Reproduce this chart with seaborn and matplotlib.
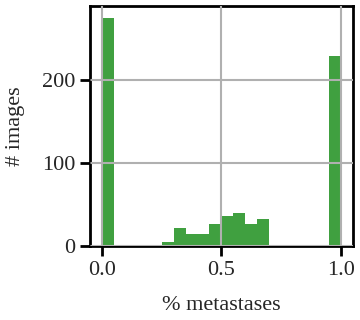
import numpy as np
import matplotlib
matplotlib.use("Agg")
import matplotlib.pyplot as plt
import seaborn as sns

# ── Data ──────────────────────────────────────────────────────
bin_edges = [i / 20 for i in range(21)]
bin_centers = [(a + b) / 2 for a, b in zip(bin_edges[:-1], bin_edges[1:])]
counts = [275, 0, 0, 0, 0, 5, 22, 15, 15, 26, 36, 40, 27, 32, 0, 0, 0, 0, 0, 229]
x_ticks = [0.0, 0.5, 1.0]
x_ticklabels = ["0.0", "0.5", "1.0"]
y_ticks = [0, 100, 200]

# ── Style ─────────────────────────────────────────────────────
sns.set_style("white")
plt.rcParams["font.family"] = ["Liberation Serif", "DejaVu Serif"]
plt.rcParams["font.size"] = 16

fig = plt.figure(figsize=(3.6, 3.2), dpi=100)
ax = fig.add_axes([0.25, 0.231, 0.73, 0.75])

sns.histplot(x=bin_centers, weights=counts, bins=bin_edges, ax=ax,
             color="#40a040", alpha=1, linewidth=0, edgecolor="none")

ax.set_axisbelow(False)
ax.grid(True, color="#b0b0b0", linewidth=1.5)
ax.set_xticks(x_ticks)
ax.set_xticklabels(x_ticklabels)
ax.set_yticks(y_ticks)
ax.set_xlabel("% metastases", fontsize=16, labelpad=12)
ax.set_ylabel("# images", fontsize=16, labelpad=12)
ax.tick_params(axis="both", direction="out", length=7, width=2,
               labelsize=16, color="black", bottom=True, left=True)
for s in ax.spines.values():
    s.set_color("black")
    s.set_linewidth(2)

fig.savefig("out.png", dpi=100)
